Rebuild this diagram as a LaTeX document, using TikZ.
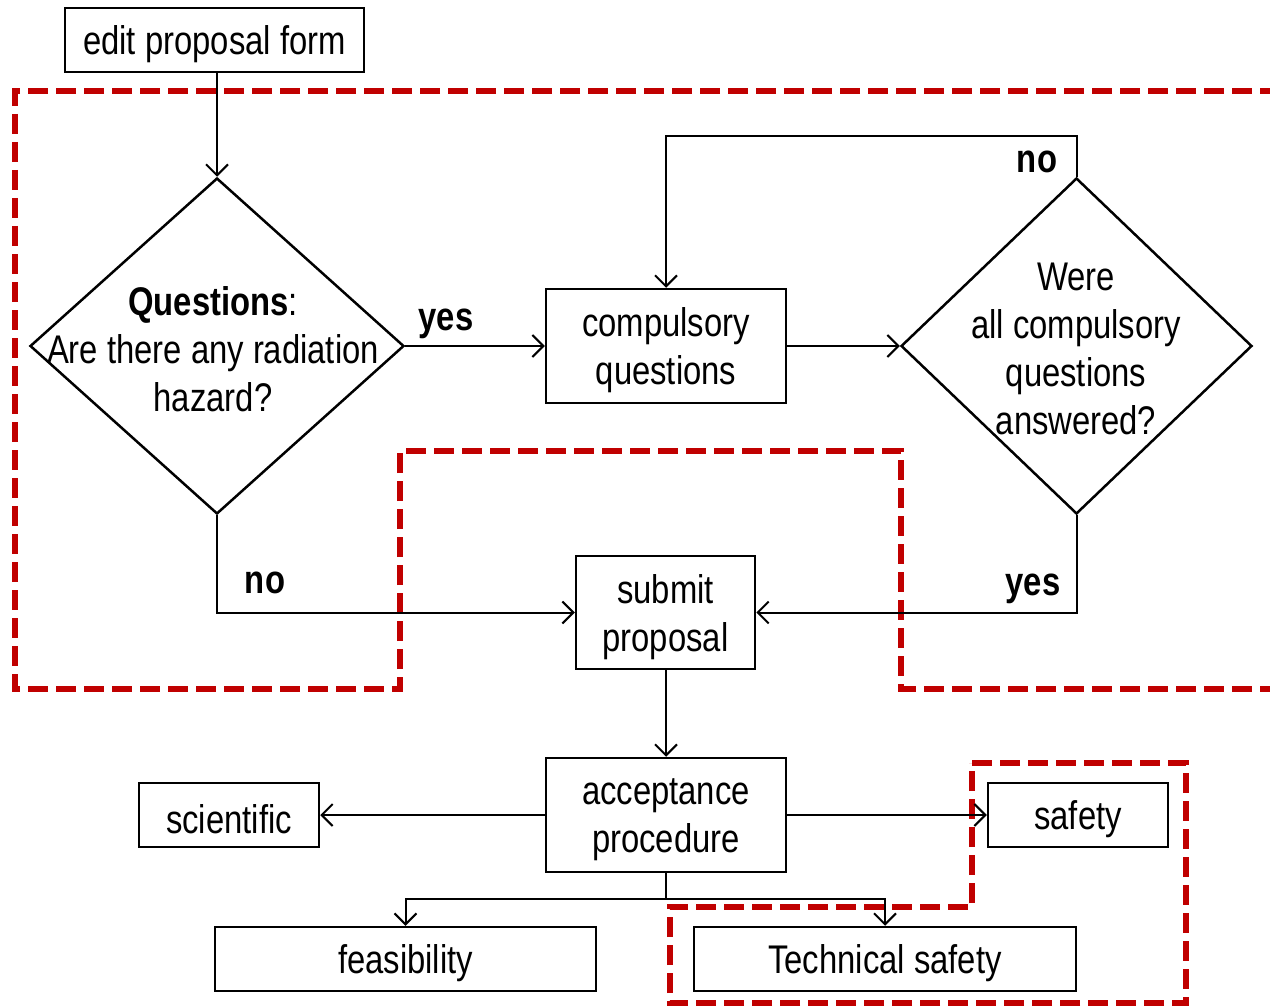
\documentclass[tikz,border=0pt]{standalone}
\usepackage{fontspec}
\setmainfont{Liberation Sans}[FakeStretch=0.82]
\usetikzlibrary{shapes.geometric,arrows.meta}
\definecolor{dred}{HTML}{C00000}
\begin{document}
\begin{tikzpicture}[x=1pt,y=-1pt,
  every node/.style={font=\fontsize{40}{48}\selectfont},
  box/.style={draw,line width=2.5pt,inner sep=0pt},
  txt/.style={align=center,inner sep=0pt},
  dia/.style={draw,diamond,line width=2.5pt,inner sep=0pt},
  arr/.style={line width=2pt,-{Straight Barb[length=11pt,width=22pt,line width=2pt]}},
  conn/.style={line width=2pt},
  lbl/.style={font=\fontsize{40}{48}\selectfont\bfseries,anchor=base,inner sep=0pt},
  region/.style={draw=dred,line width=6pt,dash pattern=on 20pt off 8pt}]
\useasboundingbox (0,0) rectangle (1270,1006);
% red dashed regions
\draw[region] (1280,91) -- (15,91) -- (15,689) -- (400,689) -- (400,451) -- (901,451) -- (901,689) -- (1280,689);
\draw[region] (972,763) -- (1186,763) -- (1186,1003) -- (670,1003) -- (670,907) -- (972,907) -- cycle;
% nodes
\node[box,minimum width=299pt,minimum height=64pt] (edit) at (214.5,40) {};
\node[txt] (editT) at ([yshift=-4pt]edit.center) {edit proposal form};
\node[dia,minimum width=374pt,minimum height=336pt] (d1) at (217,346) {};
\node[txt] (t1) at (213,349) {\textbf{Questions}:\\Are there any radiation\\hazard?};
\node[box,minimum width=240pt,minimum height=114pt] (comp) at (666,346) {};
\node[txt] (compT) at ([yshift=-4pt]comp.center) {compulsory\\questions};
\node[dia,minimum width=351pt,minimum height=336pt] (d2) at (1076.5,346) {};
\node[txt] (t2) at (1076,349) {Were\\all compulsory\\questions\\answered?};
\node[box,minimum width=179pt,minimum height=113pt] (sub) at (665.5,612.5) {};
\node[txt] (subT) at ([yshift=-5pt]sub.center) {submit\\proposal};
\node[box,minimum width=240pt,minimum height=114pt] (acc) at (666,815) {};
\node[txt] (accT) at ([yshift=-5pt]acc.center) {acceptance\\procedure};
\node[box,minimum width=180pt,minimum height=64pt] (sci) at (229,815) {};
\node[txt] (sciT) at ([yshift=-4pt]sci.center) {scientific};
\node[box,minimum width=180pt,minimum height=64pt] (saf) at (1078,815) {};
\node[txt] (safT) at ([yshift=-4pt]saf.center) {safety};
\node[box,minimum width=381pt,minimum height=64pt] (feas) at (405.5,959) {};
\node[txt] (feasT) at ([yshift=-4pt]feas.center) {feasibility};
\node[box,minimum width=382pt,minimum height=64pt] (tech) at (885,959) {};
\node[txt] (techT) at ([yshift=-4pt]tech.center) {Technical safety};
% labels
\node[lbl] (l1) at (446,330) {yes};
\node[lbl] (l2) at (1037,173) {no};
\node[lbl] (l3) at (265,593) {no};
\node[lbl] (l4) at (1033,595) {yes};
% connectors
\draw[arr] (d1.north |- edit.south) -- (d1.north);
\draw[arr] (d1.east) -- (comp.west);
\draw[arr] (comp.east) -- (d2.west);
\draw[arr] (d2.north) -- ++(0,-41) -| (comp.north);
\draw[arr] (d1.south) |- (sub.west);
\draw[arr] (d2.south) |- (sub.east);
\draw[arr] (acc.north |- sub.south) -- (acc.north);
\draw[arr] (acc.west) -- (sci.east);
\draw[arr] (acc.east) -- (saf.west);
\coordinate (j) at (666,899);
\draw[conn] (acc.south) -- (j);
\draw[arr] (j) -| (feas.north);
\draw[arr] (j) -| (tech.north);
\end{tikzpicture}
\end{document}
